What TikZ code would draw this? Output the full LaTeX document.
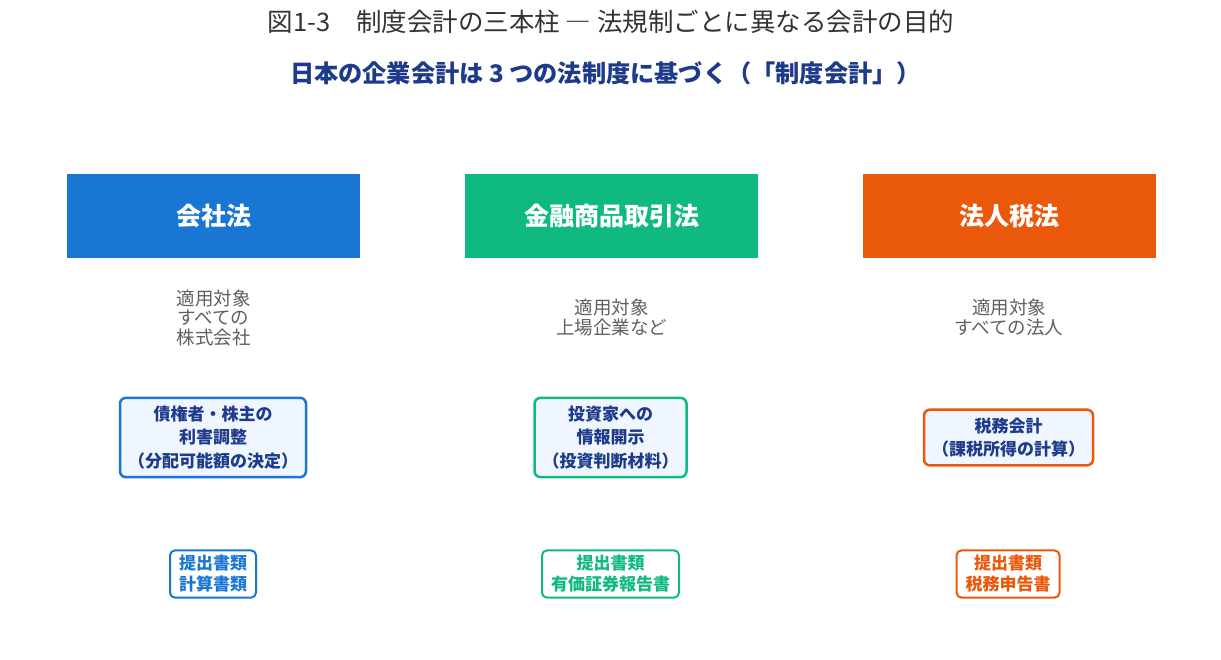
\documentclass[tikz,border=0pt]{standalone}
\usepackage{fontspec}
\setmainfont{Noto Sans CJK JP}
\usepackage{tikz}
\definecolor{lawblue}{HTML}{1976D2}
\definecolor{lawgreen}{HTML}{10B981}
\definecolor{laworange}{HTML}{EA580C}
\definecolor{navy}{HTML}{1E3A8A}
\definecolor{titlegray}{HTML}{333333}
\definecolor{scopegray}{HTML}{5F5F5F}
\definecolor{purposefill}{HTML}{EFF6FF}
\tikzstyle{lawbox}=[rectangle,minimum width=293pt,minimum height=84pt,inner sep=0pt,text=white,font=\bfseries\fontsize{25}{28}\selectfont]
\tikzstyle{scopetext}=[align=center,text=scopegray,font=\fontsize{18.5}{19.5}\selectfont]
\tikzstyle{purposebox}=[rectangle,rounded corners=6pt,line width=2.5pt,fill=purposefill,text=navy,align=center,inner xsep=8pt,inner ysep=8pt,font=\bfseries\fontsize{17}{23.5}\selectfont]
\tikzstyle{docbox}=[rectangle,rounded corners=5pt,line width=2pt,fill=white,align=center,inner xsep=9pt,inner ysep=5pt,font=\bfseries\fontsize{17}{21}\selectfont]

\begin{document}
\begin{tikzpicture}[x=1pt,y=-1pt]
    \useasboundingbox (0,0) rectangle (1221,659);
    % Title and subtitle
    \node[text=titlegray,font=\fontsize{25.5}{28}\selectfont] (title) at (611,22) {図1-3　制度会計の三本柱 ― 法規制ごとに異なる会計の目的};
    \node[text=navy,font=\bfseries\fontsize{24.2}{26}\selectfont] (subtitle) at (605.5,73) {日本の企業会計は 3 つの法制度に基づく（「制度会計」）};
    % The three laws with their scope
    \foreach \x/\name/\col/\law/\target in {213.5/kaisha/lawblue/会社法/{適用対象\\すべての\\株式会社},
                                           611.5/kinsho/lawgreen/金融商品取引法/{適用対象\\上場企業など},
                                           1009/hojin/laworange/法人税法/{適用対象\\すべての法人}}
    {
        \node[lawbox, fill=\col] (\name) at (\x,216) {\law};
        \node[scopetext] (\name-scope) at (\x,317.5) {\target};
    }
    % Purpose of each accounting
    \foreach \x/\name/\col/\purpose in {213/kaisha/lawblue/{債権者・株主の\\利害調整\\（分配可能額の決定）},
                                      610.5/kinsho/lawgreen/{投資家への\\情報開示\\（投資判断材料）},
                                      1008.5/hojin/laworange/{税務会計\\（課税所得の計算）}}
        \node[purposebox, draw=\col] (\name-purpose) at (\x,437.5) {\purpose};
    % Documents to be filed
    \foreach \x/\name/\col/\doc in {213/kaisha/lawblue/{提出書類\\計算書類},
                                  610.5/kinsho/lawgreen/{提出書類\\有価証券報告書},
                                  1008/hojin/laworange/{提出書類\\税務申告書}}
        \node[docbox, draw=\col, text=\col] (\name-doc) at (\x,574) {\doc};
\end{tikzpicture}
\end{document}
